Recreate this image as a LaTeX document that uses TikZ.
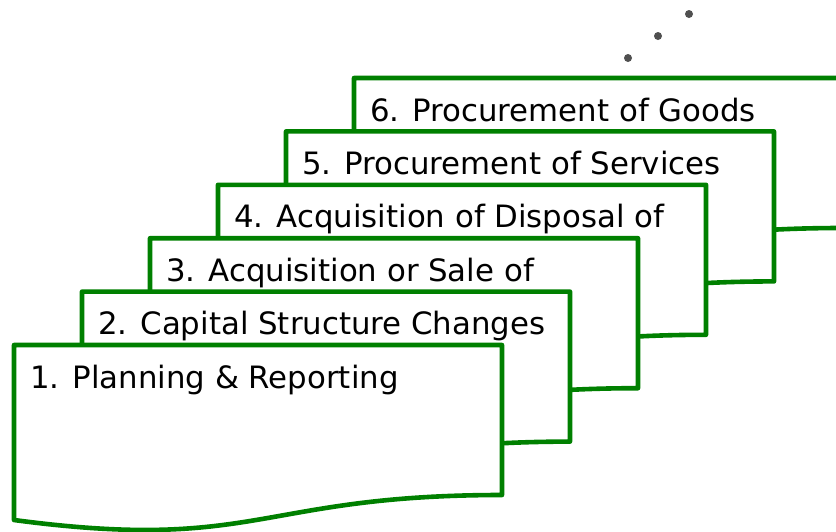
\documentclass[tikz,border=0pt]{standalone}
\usepackage{fontspec}
\setmainfont{DejaVu Sans}
\definecolor{docgreen}{RGB}{0,128,0}
\definecolor{dotgray}{RGB}{80,80,80}
\tikzset{
  docshape/.style={draw=docgreen,fill=white,line width=4.6pt,line join=round},
  doclabel/.style={anchor=base west,inner sep=0pt,font=\fontsize{30.8}{36}\selectfont},
  dotmark/.style={fill=dotgray,draw=none}
}
\begin{document}
\begin{tikzpicture}[x=1pt,y=-1pt]
        \useasboundingbox (0,0) rectangle (836,531);
        \clip (0,0) rectangle (836,531);
        % stacked documents, back to front
        \foreach \i/\txt in {6/6. Procurement of Goods,5/5. Procurement of Services,4/4. Acquisition of Disposal of,3/3. Acquisition or Sale of,2/2. Capital Structure Changes,1/1. Planning \& Reporting}
        {
            \pgfmathsetmacro{\ox}{14+(\i-1)*68}
            \pgfmathsetmacro{\oy}{345-(\i-1)*53.4}
            \draw[docshape] (\ox,\oy) -- ++(488,0) -- ++(0,150)
                .. controls ++(-244,0) and ++(244,32.5) .. ++(-488,25) -- cycle;
            \node[doclabel] (doc\i) at (\ox+16,\oy+43) {\txt};
        }
        % more to come
        \fill[dotmark] (628,58) circle (4);
        \fill[dotmark] (658,36) circle (4);
        \fill[dotmark] (689,14) circle (4);
    \end{tikzpicture}
\end{document}
